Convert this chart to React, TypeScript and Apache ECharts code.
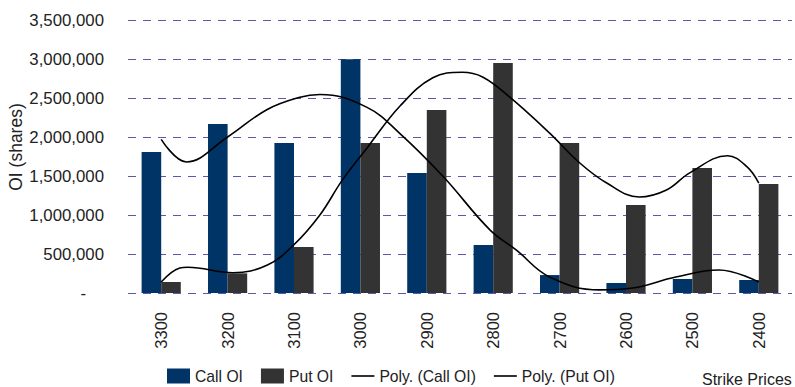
import React, { useEffect, useRef } from "react";
import * as echarts from "echarts";

const strikes = ["3300", "3200", "3100", "3000", "2900", "2800", "2700", "2600", "2500", "2400"];
const callOI = [1807000, 2167000, 1923000, 2996000, 1538000, 615000, 230000, 128000, 180000, 167000];
const putOI = [141000, 252000, 590000, 1923000, 2346000, 2949000, 1923000, 1128000, 1603000, 1397000];

// trendline points: [category position, value]
const callTrend: [number, number][] = [
  [0, 1970000], [0.38, 1680000], [1, 2000000], [1.59, 2350000], [2.09, 2510000],
  [2.39, 2545000], [3.1, 2380000], [3.6, 2040000], [4.25, 1490000], [4.95, 810000],
  [5.35, 550000], [5.85, 205000], [6.6, 40000], [7.1, 64000], [7.75, 205000],
  [8.4, 295000], [9, 140000],
];
const putTrend: [number, number][] = [
  [0, 140000], [0.28, 320000], [0.4, 330000], [1.08, 260000], [1.6, 360000],
  [2.0, 620000], [2.39, 1000000], [2.73, 1450000], [3.1, 1860000], [3.6, 2400000],
  [4.09, 2760000], [4.53, 2830000], [4.84, 2770000], [5.25, 2510000], [5.85, 2050000],
  [6.3, 1670000], [6.71, 1410000], [7.2, 1230000], [7.61, 1320000], [7.96, 1540000],
  [8.53, 1760000], [8.82, 1620000], [9, 1410000],
];
const yTicks = { min: 0, max: 3500000, interval: 500000 };

const FONT = "'Liberation Sans', Arial, sans-serif";
const LINE_ICON = "path://M0,0 H100 V7 H0 Z";

export default function App() {
  const ref = useRef<HTMLDivElement>(null);
  useEffect(() => {
    if (!ref.current) return;
    const chart = echarts.init(ref.current, undefined, { renderer: "svg" });
    chart.setOption({
      animation: false,
      textStyle: { fontFamily: FONT },
      grid: { left: 128, right: 3, top: 20, bottom: 94, containLabel: false },
      legend: {
        left: 167,
        top: 368,
        padding: 0,
        itemGap: 18,
        itemWidth: 23,
        itemHeight: 15,
        textStyle: { fontFamily: FONT, fontSize: 15.7, color: "#222" },
        data: [
          { name: "Call OI", icon: "rect" },
          { name: "Put OI", icon: "rect" },
          { name: "Poly. (Call OI)", icon: LINE_ICON },
          { name: "Poly. (Put OI)", icon: LINE_ICON },
        ],
      },
      xAxis: [
        {
          type: "category",
          data: strikes,
          axisLine: { show: false },
          axisTick: { show: false },
          axisLabel: { rotate: 90, margin: 19, fontSize: 16.5, color: "#222", fontFamily: FONT },
        },
        { type: "value", min: -0.5, max: 9.5, show: false },
      ],
      yAxis: {
        type: "value",
        min: yTicks.min,
        max: yTicks.max,
        interval: yTicks.interval,
        axisLine: { show: false },
        axisTick: { show: false },
        splitLine: { lineStyle: { color: "#5a5aaa", width: 1, type: [8, 7] } },
        axisLabel: {
          margin: 24,
          fontSize: 16.8,
          color: "#222",
          fontFamily: FONT,
          formatter: (v: number) => (v === 0 ? "{z|-}" : v.toLocaleString("en-US")),
          rich: { z: { fontSize: 16.8, padding: [0, 18, 0, 0], fontFamily: FONT, color: "#222" } },
        },
      },
      series: [
        {
          name: "Call OI",
          type: "bar",
          data: callOI,
          itemStyle: { color: "#003366" },
          barGap: "0%",
          barCategoryGap: "41%",
        },
        {
          name: "Put OI",
          type: "bar",
          data: putOI,
          itemStyle: { color: "#333333" },
          barGap: "0%",
          barCategoryGap: "41%",
        },
        {
          name: "Poly. (Call OI)",
          type: "line",
          xAxisIndex: 1,
          data: callTrend,
          smooth: 0.4,
          symbol: "none",
          lineStyle: { color: "#000", width: 1.6 },
          itemStyle: { color: "#000" },
        },
        {
          name: "Poly. (Put OI)",
          type: "line",
          xAxisIndex: 1,
          data: putTrend,
          smooth: 0.4,
          symbol: "none",
          lineStyle: { color: "#000", width: 1.6 },
          itemStyle: { color: "#000" },
        },
      ],
      graphic: [
        {
          type: "text",
          x: 16,
          y: 147,
          rotation: Math.PI / 2,
          style: {
            text: "OI (shares)",
            fontFamily: FONT,
            fontSize: 17.5,
            fill: "#222",
            align: "center",
            verticalAlign: "middle",
          },
        },
        {
          type: "text",
          x: 702,
          y: 379,
          style: {
            text: "Strike Prices",
            fontFamily: FONT,
            fontSize: 16,
            fill: "#222",
            align: "left",
            verticalAlign: "middle",
          },
        },
      ],
    });
    return () => chart.dispose();
  }, []);
  return <div ref={ref} style={{ width: 795, height: 387, position: "absolute", left: 0, top: 0 }} />;
}
